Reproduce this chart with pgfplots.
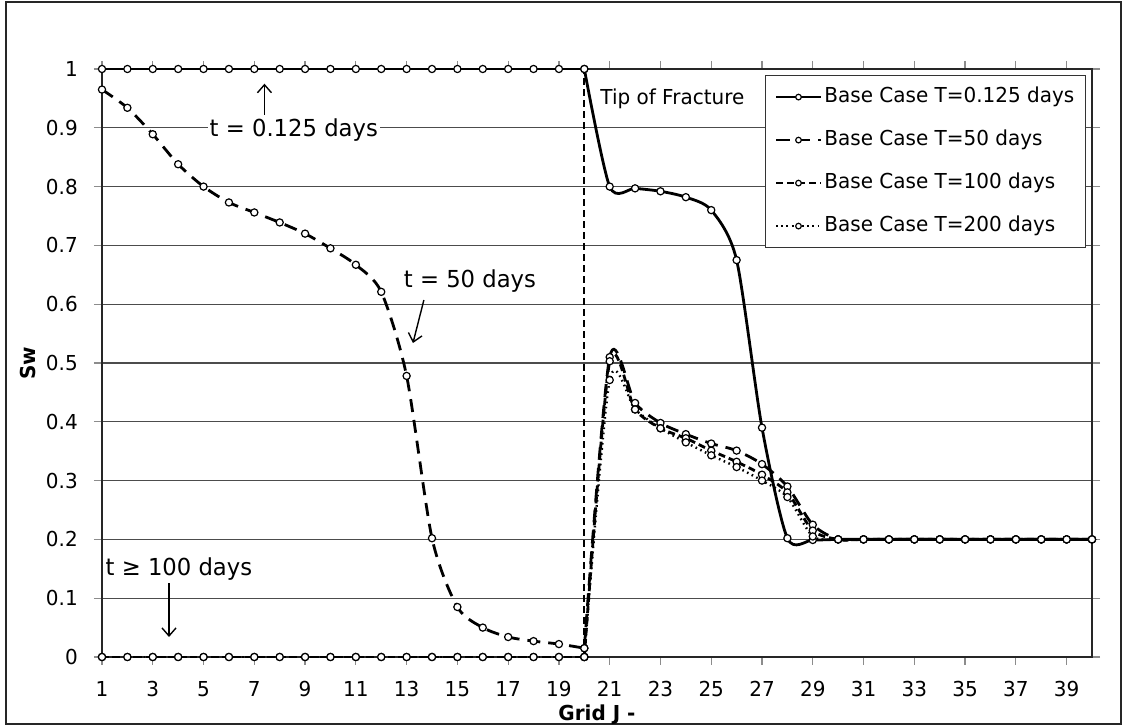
\documentclass[border=0pt]{standalone}
\usepackage{fontspec}
\setmainfont{DejaVu Sans}[FakeStretch=0.97]
\usepackage{pgfplots}
\usepackage{pgfplotstable}
\pgfplotsset{compat=1.18}
\usetikzlibrary{arrows.meta}

\pgfplotstableread{
j  a     b     c     d
1  1     0.965 0     0
2  1     0.934 0     0
3  1     0.889 0     0
4  1     0.838 0     0
5  1     0.800 0     0
6  1     0.773 0     0
7  1     0.756 0     0
8  1     0.739 0     0
9  1     0.720 0     0
10 1     0.695 0     0
11 1     0.667 0     0
12 1     0.621 0     0
13 1     0.478 0     0
14 1     0.202 0     0
15 1     0.085 0     0
16 1     0.050 0     0
17 1     0.034 0     0
18 1     0.027 0     0
19 1     0.022 0     0
20 1     0.015 0     0
21 0.800 0.510 0.503 0.471
22 0.797 0.432 0.421 0.421
23 0.792 0.398 0.389 0.389
24 0.782 0.379 0.372 0.365
25 0.760 0.363 0.351 0.343
26 0.675 0.351 0.332 0.323
27 0.390 0.328 0.310 0.300
28 0.202 0.290 0.280 0.272
29 0.199 0.225 0.215 0.205
30 0.2   0.2   0.2   0.2
31 0.2   0.2   0.2   0.2
32 0.2   0.2   0.2   0.2
33 0.2   0.2   0.2   0.2
34 0.2   0.2   0.2   0.2
35 0.2   0.2   0.2   0.2
36 0.2   0.2   0.2   0.2
37 0.2   0.2   0.2   0.2
38 0.2   0.2   0.2   0.2
39 0.2   0.2   0.2   0.2
40 0.2   0.2   0.2   0.2
}\data

\begin{document}
\fontsize{10.3pt}{12pt}\selectfont
\begin{tikzpicture}
\path[use as bounding box] (-51pt,-34.5pt) rectangle (510.5pt,328.5pt);
\draw[line width=1pt, black!85] (-48pt,-33.5pt) rectangle (509.5pt,327.5pt);
\begin{axis}[
  at={(0pt,0pt)}, anchor=south west,
  scale only axis, width=495pt, height=294pt,
  xmin=1, xmax=40, ymin=0, ymax=1,
  clip=false,
  xtick={1,3,...,39},
  ytick={0,0.1,0.2,0.3,0.4,0.5,0.6,0.7,0.8,0.9,1},
  yticklabel style={/pgf/number format/fixed, /pgf/number format/precision=1, xshift=-4.5pt},
  xticklabel style={yshift=-4.5pt},
  /pgf/number format/assume math mode=true,
  tick align=outside, major tick length=4pt,
  tick style={black!45, line width=0.6pt},
  ymajorgrids, grid style={black!70, line width=0.6pt},
  axis line style={black!85, line width=0.75pt},
  xlabel={\textbf{Grid J -}}, ylabel={\textbf{Sw}},
  xlabel style={yshift=3pt},
  ylabel style={yshift=-2pt},
  every axis plot/.append style={black, line width=1.4pt, mark=*, mark size=1.8pt,
     mark options={solid, fill=white, draw=black, line width=0.6pt}, smooth, tension=0.45},
  legend cell align=left,
  legend image code/.code={\draw[mark repeat=2,mark phase=2,mark size=1.4pt,#1] plot coordinates {(0pt,0pt)(11.25pt,0pt)(22.5pt,0pt)};},
  legend style={at={(0.6697,0.9898)}, anchor=north west, draw=black!80, line width=0.6pt,
     fill=white, row sep=9pt, inner sep=4.5pt,
     nodes={inner sep=1pt, text height=8pt, text depth=2.5pt}},
]
\addplot[solid, restrict x to domain=1:20] table[x=j,y=a]{\data};
\addlegendentry{Base Case T=0.125 days}
\addplot[dash pattern=on 6.5pt off 4pt, restrict x to domain=1:20] table[x=j,y=b]{\data};
\addlegendentry{Base Case T=50 days}
\addplot[dash pattern=on 3.5pt off 2pt, restrict x to domain=1:20] table[x=j,y=c]{\data};
\addlegendentry{Base Case T=100 days}
\addplot[line width=1.2pt, dash pattern=on 0.8pt off 1.8pt, restrict x to domain=1:20] table[x=j,y=d]{\data};
\addlegendentry{Base Case T=200 days}
\addplot[solid, restrict x to domain=20:40, forget plot] table[x=j,y=a]{\data};
\addplot[dash pattern=on 6.5pt off 4pt, restrict x to domain=20:40, forget plot] table[x=j,y=b]{\data};
\addplot[dash pattern=on 3.5pt off 2pt, restrict x to domain=20:40, forget plot] table[x=j,y=c]{\data};
\addplot[line width=1.2pt, dash pattern=on 0.8pt off 1.8pt, restrict x to domain=20:40, forget plot] table[x=j,y=d]{\data};
\addplot[black, line width=0.9pt, mark=none, dash pattern=on 3.5pt off 2pt, forget plot, sharp plot] coordinates {(20,0) (20,1)};
\node[anchor=west, inner sep=0pt] at (axis cs:20.62,0.949) {Tip of Fracture};
\node[anchor=west, fill=white, inner sep=1pt, font=\fontsize{11.7pt}{13pt}\selectfont] at (axis cs:5.15,0.897) {t = 0.125 days};
\draw[-{Straight Barb[length=4pt,width=7pt]}, line width=0.7pt] (axis cs:7.4,0.922) -- (axis cs:7.4,0.975);
\node[anchor=west, fill=white, inner sep=1pt, font=\fontsize{11.7pt}{13pt}\selectfont] at (axis cs:12.8,0.64) {t = 50 days};
\draw[-{Straight Barb[length=4pt,width=7pt]}, line width=0.7pt] (axis cs:13.68,0.607) -- (axis cs:13.25,0.534);
\node[anchor=west, fill=white, inner sep=1pt, font=\fontsize{11.7pt}{13pt}\selectfont] at (axis cs:1.05,0.15) {t ≥ 100 days};
\draw[-{Straight Barb[length=4pt,width=7pt]}, line width=0.7pt] (axis cs:3.64,0.125) -- (axis cs:3.64,0.034);
\end{axis}
\end{tikzpicture}
\end{document}
